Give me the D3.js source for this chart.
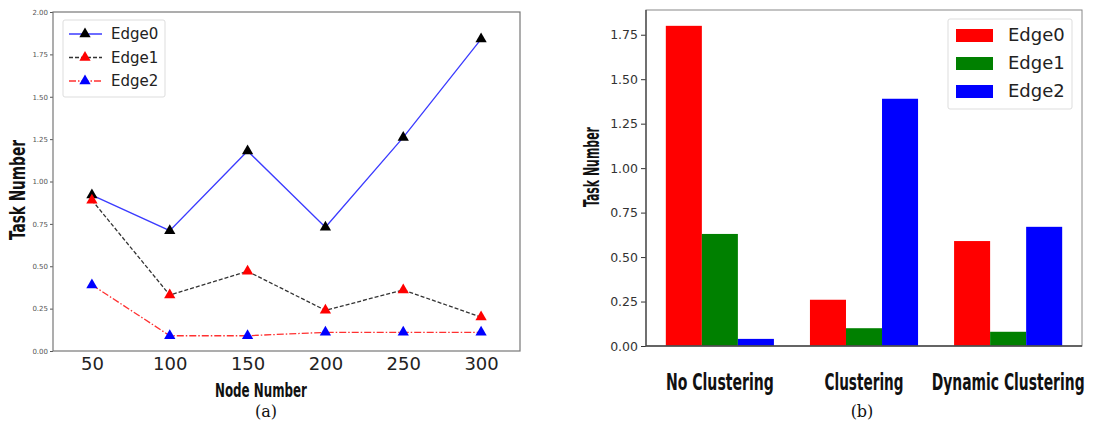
<!DOCTYPE html>
<html>
<head>
<meta charset="utf-8">
<script src="https://cdn.jsdelivr.net/npm/d3@7/dist/d3.min.js"></script>
<style>
  body { margin: 0; background: #fff; }
  .cond { font-family: "Liberation Sans Narrow", "DejaVu Sans Condensed", "DejaVu Sans", sans-serif; font-weight: bold; }
  .tick text { font-family: "DejaVu Sans", sans-serif; }
</style>
</head>
<body>
<div id="dataviz"></div>
<script>
// (a) line chart data
var nodeNumbers = [50, 100, 150, 200, 250, 300];
var edge0Line = [0.92, 0.71, 1.18, 0.73, 1.26, 1.84];
var edge1Line = [0.89, 0.33, 0.47, 0.24, 0.36, 0.20];
var edge2Line = [0.39, 0.09, 0.09, 0.11, 0.11, 0.11];
var lineTicks = [0, 0.25, 0.5, 0.75, 1, 1.25, 1.5, 1.75, 2];

// (b) bar chart data
var methods = ["No Clustering", "Clustering", "Dynamic Clustering"];
var edgeNames = ["Edge0", "Edge1", "Edge2"];
var edge0Bar = [1.80, 0.26, 0.59];
var edge1Bar = [0.63, 0.10, 0.08];
var edge2Bar = [0.04, 1.39, 0.67];
var barTicks = [0, 0.25, 0.5, 0.75, 1, 1.25, 1.5, 1.75];

// squeezed widths of the bold category labels (style only)
var methodLabelWidth = [108, 79, 153];

var svg = d3.select("#dataviz").append("svg")
    .attr("width", 1110)
    .attr("height", 430);

// squeeze a text horizontally to a target width (keeps its bbox honest)
function squeeze(sel, w, pre) {
    sel.each(function(d, i) {
        var t = d3.select(this);
        var target = typeof w === "function" ? w(d, i) : w;
        var sx = target / this.getComputedTextLength();
        t.attr("transform", (pre || "") + " scale(" + sx + ",1)");
    });
}

// ---------- (a) ----------
var xa = d3.scaleLinear().domain([25, 325]).range([53, 520]);
var ya = d3.scaleLinear().domain([0, 2]).range([351, 12]);

var ga = svg.append("g");

ga.append("g")
    .attr("transform", "translate(0,351)")
    .call(d3.axisBottom(xa).tickValues(nodeNumbers).tickSize(0).tickPadding(6))
    .call(g => g.select(".domain").remove())
    .selectAll("text").attr("font-size", 18).attr("fill", "#222");

ga.append("g")
    .attr("transform", "translate(53,0)")
    .call(d3.axisLeft(ya).tickValues(lineTicks).tickFormat(d3.format(".2f")).tickSize(3).tickPadding(2))
    .call(g => g.select(".domain").remove())
    .call(g => g.selectAll("line").attr("stroke", "#555"))
    .selectAll("text").attr("font-size", 7).attr("fill", "#555");

ga.append("rect")
    .attr("x", 53).attr("y", 12).attr("width", 467).attr("height", 339)
    .attr("fill", "none").attr("stroke", "#777").attr("stroke-width", 1.2);

var lineSeries = [
    { name: "Edge0", values: edge0Line, stroke: "#3b3bff", dash: null, marker: "#000" },
    { name: "Edge1", values: edge1Line, stroke: "#333", dash: "4,2", marker: "#ff0000" },
    { name: "Edge2", values: edge2Line, stroke: "#ff3030", dash: "7,2,1.5,2", marker: "#0000ff" }
];

var line = d3.line()
    .x((d, i) => xa(nodeNumbers[i]))
    .y(d => ya(d));

var tri = d3.symbol(d3.symbolTriangle).size(55);

lineSeries.forEach(function(s) {
    ga.append("path")
        .attr("d", line(s.values))
        .attr("fill", "none")
        .attr("stroke", s.stroke)
        .attr("stroke-width", 1.3)
        .attr("stroke-dasharray", s.dash);
    ga.selectAll(null).data(s.values).enter().append("path")
        .attr("d", tri)
        .attr("transform", (d, i) => "translate(" + xa(nodeNumbers[i]) + "," + ya(d) + ")")
        .attr("fill", s.marker);
});

// legend (a)
var lega = ga.append("g");
lega.append("rect")
    .attr("x", 63).attr("y", 20).attr("width", 102).attr("height", 77).attr("rx", 2)
    .attr("fill", "#fff").attr("stroke", "#ddd");
lineSeries.forEach(function(s, i) {
    var yy = 34 + i * 23.5;
    lega.append("line")
        .attr("x1", 69).attr("x2", 102).attr("y1", yy).attr("y2", yy)
        .attr("stroke", s.stroke).attr("stroke-width", 1.3)
        .attr("stroke-dasharray", s.dash);
    lega.append("path").attr("d", tri)
        .attr("transform", "translate(85," + yy + ")")
        .attr("fill", s.marker);
    lega.append("text")
        .attr("x", 111).attr("y", yy).attr("dy", "0.35em")
        .attr("font-family", "DejaVu Sans").attr("font-size", 15).attr("fill", "#222")
        .text(s.name);
});

ga.append("text").attr("class", "cond")
    .attr("text-anchor", "middle")
    .attr("font-size", 20).attr("fill", "#111")
    .text("Node Number")
    .call(squeeze, 92, "translate(261,397)");
ga.append("text").attr("class", "cond")
    .attr("text-anchor", "middle")
    .attr("font-size", 22).attr("fill", "#111")
    .text("Task Number")
    .call(squeeze, 100, "translate(25,190) rotate(-90)");
ga.append("text")
    .attr("x", 266).attr("y", 417).attr("text-anchor", "middle")
    .attr("font-family", "DejaVu Serif").attr("font-size", 16).attr("fill", "#111")
    .text("(a)");

// ---------- (b) ----------
var xb = d3.scaleBand().domain(methods).range([646, 1082]).paddingInner(0.25).paddingOuter(0.1375);
var xs = d3.scaleBand().domain(edgeNames).range([0, xb.bandwidth()]);
var yb = d3.scaleLinear().domain([0, 1.889]).range([346, 10]);
var barColor = d3.scaleOrdinal().domain(edgeNames).range(["#ff0000", "#008000", "#0000ff"]);
var barValues = [edge0Bar, edge1Bar, edge2Bar];

var gb = svg.append("g");

gb.append("g")
    .attr("transform", "translate(646,0)")
    .call(d3.axisLeft(yb).tickValues(barTicks).tickFormat(d3.format(".2f")).tickSize(5).tickPadding(3))
    .call(g => g.select(".domain").remove())
    .call(g => g.selectAll("line").attr("stroke", "#333"))
    .selectAll("text").attr("font-size", 12.5).attr("fill", "#333");

methods.forEach(function(m, mi) {
    gb.selectAll(null).data(edgeNames).enter().append("rect")
        .attr("x", d => xb(m) + xs(d))
        .attr("y", (d, i) => yb(barValues[i][mi]))
        .attr("width", xs.bandwidth())
        .attr("height", (d, i) => 346 - yb(barValues[i][mi]))
        .attr("fill", d => barColor(d));
});

gb.append("g")
    .attr("transform", "translate(0,346)")
    .call(d3.axisBottom(xb).tickSize(0).tickPadding(0))
    .call(g => g.select(".domain").remove())
    .selectAll("text")
    .attr("class", "cond")
    .attr("dy", null)
    .attr("y", 44)
    .attr("font-size", 23).attr("fill", "#111")
    .call(squeeze, (d, i) => methodLabelWidth[i], "");

gb.append("rect")
    .attr("x", 646).attr("y", 10).attr("width", 436).attr("height", 336)
    .attr("fill", "none").attr("stroke", "#888").attr("stroke-width", 1);
gb.append("line").attr("x1", 646).attr("x2", 646).attr("y1", 10).attr("y2", 346)
    .attr("stroke", "#444").attr("stroke-width", 1.3);
gb.append("line").attr("x1", 646).attr("x2", 1082).attr("y1", 346).attr("y2", 346)
    .attr("stroke", "#444").attr("stroke-width", 1.3);

// legend (b)
var legb = gb.append("g");
legb.append("rect")
    .attr("x", 948).attr("y", 19).attr("width", 124).attr("height", 90).attr("rx", 2)
    .attr("fill", "#fff").attr("stroke", "#ddd");
edgeNames.forEach(function(n, i) {
    var yy = 35 + i * 28;
    legb.append("rect")
        .attr("x", 956).attr("y", yy - 6).attr("width", 37).attr("height", 13)
        .attr("fill", barColor(n));
    legb.append("text")
        .attr("x", 1008).attr("y", yy).attr("dy", "0.35em")
        .attr("font-family", "DejaVu Sans").attr("font-size", 18).attr("fill", "#222")
        .text(n);
});

gb.append("text").attr("class", "cond")
    .attr("text-anchor", "middle")
    .attr("font-size", 22).attr("fill", "#111")
    .text("Task Number")
    .call(squeeze, 80, "translate(599,167) rotate(-90)");
gb.append("text")
    .attr("x", 862).attr("y", 417).attr("text-anchor", "middle")
    .attr("font-family", "DejaVu Serif").attr("font-size", 16).attr("fill", "#111")
    .text("(b)");
</script>
</body>
</html>
